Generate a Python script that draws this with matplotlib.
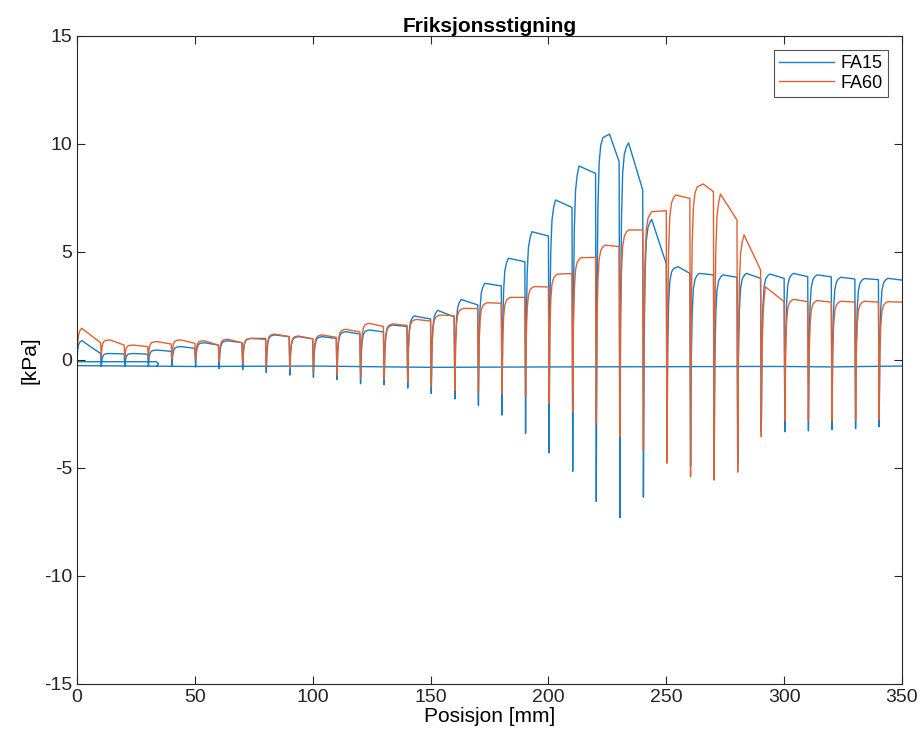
import matplotlib.pyplot as plt

# Friction rise per 10 mm step, two test series
dip_x = [10, 20, 30, 40, 50, 60, 70, 80, 90, 100, 110, 120, 130, 140, 150, 160, 170,
         180, 190, 200, 210, 220, 230, 240, 250, 260, 270, 280, 290, 300, 310, 320, 330, 340]

# FA15 (blue)
fa15_start = 0.0
fa15_dip = [-0.3, -0.3, -0.3, -0.3, -0.32, -0.4, -0.45, -0.58, -0.7, -0.8, -0.9, -1.1, -1.15,
            -1.3, -1.55, -1.8, -2.1, -2.55, -3.4, -4.3, -5.15, -6.55, -7.3, -6.35, -4.2, -4.9,
            -5.1, -4.8, -3.3, -3.32, -3.28, -3.22, -3.18, -3.09]
fa15_top = [0.9, 0.3, 0.3, 0.46, 0.62, 0.8, 0.89, 1.0, 1.16, 1.08, 1.08, 1.31, 1.39, 1.62, 2.04,
            2.3, 2.8, 3.55, 4.71, 5.94, 7.41, 8.98, 10.46, 10.05, 6.51, 4.32, 4.01, 3.94, 4.01,
            3.98, 4.01, 3.94, 3.83, 3.77, 3.78]
fa15_top_x = [2.0, 14, 24, 34, 44, 54, 64, 74, 84, 94, 104, 114, 124, 134, 143, 153, 163, 173,
              183, 193, 203, 213, 225.9, 234, 243.8, 255, 264, 274, 284, 294, 304, 314, 324,
              334, 344]
fa15_end = [0.3, 0.28, 0.27, 0.4, 0.54, 0.69, 0.8, 1.0, 1.08, 0.98, 1.0, 1.2, 1.3, 1.55, 1.9,
            2.0, 2.55, 3.43, 4.55, 5.74, 7.06, 8.64, 9.18, 7.87, 4.45, 4.01, 3.94, 3.83, 3.78,
            3.78, 3.86, 3.85, 3.75, 3.72, 3.7]
# return path of FA15 near zero
fa15_hook_x = [34.0, 34.6, 33.6, 0.0]
fa15_hook_y = [-0.26, -0.17, -0.08, -0.08]
fa15_base_x = [350, 320, 300, 280, 250, 200, 150, 100, 50, 0]
fa15_base_y = [-0.28, -0.32, -0.3, -0.3, -0.31, -0.32, -0.34, -0.28, -0.3, -0.26]

# FA60 (orange)
fa60_start = 0.0
fa60_dip = [0.15, 0.1, 0.1, 0.07, 0.0, -0.08, -0.15, -0.3, -0.4, -0.55, -0.7, -0.85, -0.9,
            -1.0, -1.2, -1.4, -1.5, -1.55, -1.7, -2.0, -2.4, -2.93, -3.55, -4.17, -4.78, -5.4,
            -5.56, -5.19, -3.55, -2.8, -2.8, -2.8, -2.8, -2.75]
fa60_top = [1.47, 0.93, 0.69, 0.85, 0.93, 0.89, 0.96, 1.0, 1.2, 1.11, 1.16, 1.42, 1.7, 1.67,
            1.88, 2.08, 2.39, 2.65, 2.9, 3.4, 3.98, 4.74, 5.32, 6.02, 6.87, 7.64, 8.15, 7.68,
            5.79, 3.39, 2.81, 2.75, 2.72, 2.72, 2.7]
fa60_top_x = [2.0, 14, 24, 34, 44, 54, 64, 74, 84, 94, 104, 114, 124, 134, 144, 154, 164, 174,
              184, 194, 204, 214, 224, 234, 244, 254, 265.7, 273, 283, 292, 304, 314, 324,
              334, 344]
fa60_end = [0.8, 0.69, 0.62, 0.74, 0.77, 0.69, 0.8, 0.95, 1.08, 0.98, 1.05, 1.3, 1.55, 1.6,
            1.8, 2.05, 2.38, 2.63, 2.9, 3.38, 4.0, 4.75, 5.25, 6.02, 6.91, 7.48, 7.79, 6.48,
            4.17, 2.7, 2.7, 2.68, 2.68, 2.68, 2.68]

RISE_OFF = [0.3, 0.7, 1.2, 1.9, 2.8]
RISE_FRAC = [0.55, 0.8, 0.92, 0.97, 0.99]


def build_trace(start, dips, tops, tops_x, ends, x_end=350):
    xs, ys = [], []
    for i in range(len(tops)):
        if i == 0:
            x0, y0 = 0.0, start
        else:
            d = dip_x[i - 1]
            xs.append(d + 0.3)
            ys.append(dips[i - 1])
            x0, y0 = d + 0.3, dips[i - 1]
        xs.append(x0)
        ys.append(y0)
        for o, f in zip(RISE_OFF, RISE_FRAC):
            if x0 + o < tops_x[i] - 0.3:
                xs.append(x0 + o)
                ys.append(y0 + f * (tops[i] - y0))
        xs.append(tops_x[i])
        ys.append(tops[i])
        xs.append(dip_x[i] if i < len(dip_x) else x_end)
        ys.append(ends[i])
    return xs, ys


bx, by = build_trace(fa15_start, fa15_dip, fa15_top, fa15_top_x, fa15_end)
ox, oy = build_trace(fa60_start, fa60_dip, fa60_top, fa60_top_x, fa60_end)

bx = fa15_hook_x + bx + [float('nan')] + fa15_base_x
by = fa15_hook_y + by + [float('nan')] + fa15_base_y

plt.rcParams['font.family'] = ['Liberation Sans', 'DejaVu Sans']
plt.rcParams['axes.unicode_minus'] = False

fig = plt.figure(figsize=(9.21, 7.42), dpi=100)
ax = fig.add_axes([77 / 921, 1 - 684 / 742, 825 / 921, 648 / 742])

ax.plot(bx, by, color='#1a7cc4', lw=1.0, label='FA15')
ax.plot(ox, oy, color='#de6234', lw=1.0, label='FA60')

ax.set_xlim(0, 350)
ax.set_ylim(-15, 15)
ax.set_xticks([0, 50, 100, 150, 200, 250, 300, 350])
ax.set_yticks([-15, -10, -5, 0, 5, 10, 15])
ax.tick_params(direction='in', top=True, right=True, length=5.8, width=0.8,
               labelsize=14, colors='#262626')
for s in ax.spines.values():
    s.set_color('#262626')
    s.set_linewidth(0.8)

ax.set_title('Friksjonsstigning', fontsize=15, fontweight='bold', pad=3)
ax.set_xlabel('Posisjon [mm]', fontsize=15, labelpad=1)
ax.set_ylabel('[kPa]', fontsize=15, labelpad=3)

leg = ax.legend(loc='upper right', fontsize=13, frameon=True, fancybox=False,
                edgecolor='#262626', borderaxespad=0.75, handlelength=3.0,
                handletextpad=0.4, labelspacing=0.15, borderpad=0.3)
leg.get_frame().set_linewidth(0.8)

fig.savefig('out.png', dpi=100)
